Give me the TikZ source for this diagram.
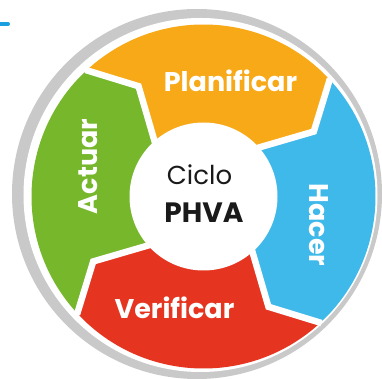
\documentclass[tikz,border=0pt]{standalone}
\usepackage{fontspec}
\setmainfont{Poppins}
\definecolor{ringgray}{HTML}{C9C9C9}
\definecolor{plancol}{HTML}{F7A917}
\definecolor{hacercol}{HTML}{3FB8EA}
\definecolor{verifcol}{HTML}{E5341F}
\definecolor{actcol}{HTML}{76B72C}
\definecolor{markblue}{HTML}{1AA0E0}
\definecolor{txtdark}{HTML}{1A1A1A}
\tikzset{
    gap/.style={
    draw=white,line width=6.5pt,line join=miter
    },
    stage/.style={
    text=white,inner sep=0pt,anchor=base,font=\fontsize{27}{27}\selectfont\bfseries
    },
    hub/.style={
    circle,fill=white,minimum size=148pt,inner sep=0pt
    },
    hubtxt/.style={
    text=txtdark,inner sep=0pt,anchor=base
    },
}

\begin{document}
\begin{tikzpicture}[x=1pt,y=1pt]
   \useasboundingbox (-203.5,-182.5) rectangle (178.5,196.5);
   \fill[ringgray] (-6.5,2.5) circle[radius=185];
   \fill[white] (-3,1.5) circle[radius=177];
   \draw[markblue,line width=4pt,line cap=round] (-205,172.5) -- (-195.5,172.5);

   \fill[plancol] (133:172) arc[start angle=133,end angle=43,radius=172]
      -- (30.5:128) -- (43:70) arc[start angle=43,end angle=133,radius=70]
      -- (120.5:128) -- cycle;
   \fill[hacercol] (43:172) arc[start angle=43,end angle=-47,radius=172]
      -- (-59.5:128) -- (-47:70) arc[start angle=-47,end angle=43,radius=70]
      -- (30.5:128) -- cycle;
   \fill[verifcol] (-47:172) arc[start angle=-47,end angle=-137,radius=172]
      -- (-149.5:128) -- (-137:70) arc[start angle=-137,end angle=-47,radius=70]
      -- (-59.5:128) -- cycle;
   \fill[actcol] (-137:172) arc[start angle=-137,end angle=-227,radius=172]
      -- (120.5:128) -- (133:70) arc[start angle=133,end angle=223,radius=70]
      -- (-149.5:128) -- cycle;

   \draw[gap] (133:173) -- (120.5:128) -- (133:70);
   \draw[gap] (43:173) -- (30.5:128) -- (43:70);
   \draw[gap] (-47:173) -- (-59.5:128) -- (-47:70);
   \draw[gap] (-137:173) -- (-149.5:128) -- (-137:70);

   \node[hub] (hub) at (0,0) {};
   \node[hubtxt,font=\fontsize{26}{26}\selectfont] (ciclo) at (-4,11.5) {Ciclo};
   \node[hubtxt,font=\fontsize{28}{28}\selectfont\bfseries] (phva) at (0.5,-26.5) {PHVA};

   \node[stage] (P) at (27,104.5) {Planificar};
   \node[stage,rotate=-90] (H) at (105.5,-28.5) {Hacer};
   \node[stage] (V) at (-29,-121.5) {Verificar};
   \node[stage,rotate=90] (A) at (-105.5,30) {Actuar};
\end{tikzpicture}
\end{document}
